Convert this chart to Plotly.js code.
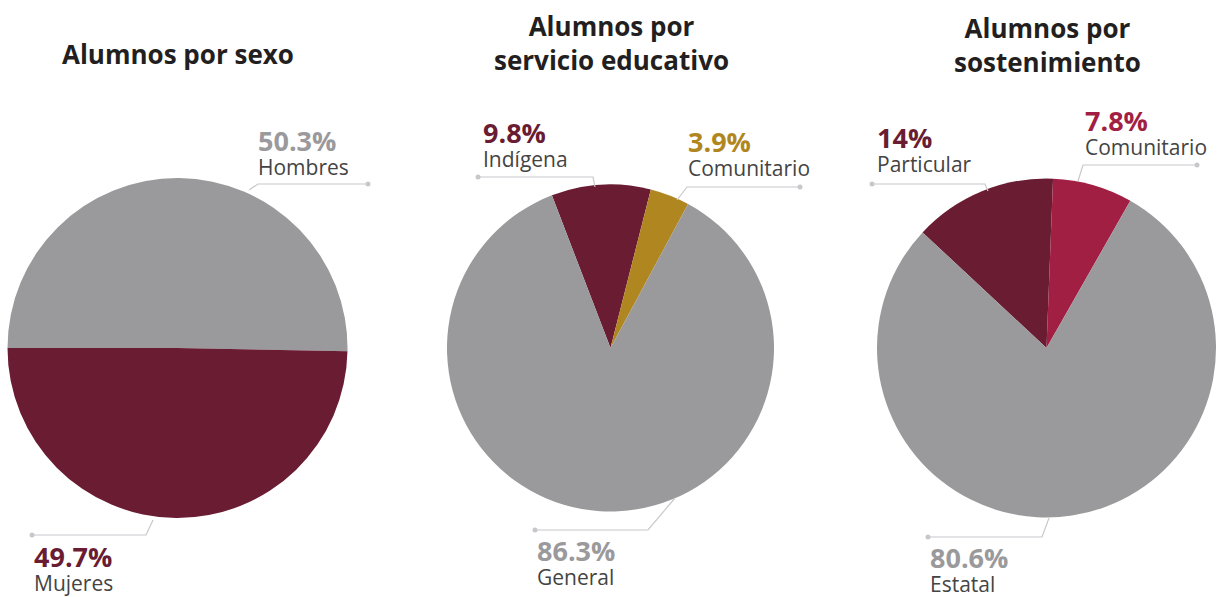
<!DOCTYPE html>
<html>
<head>
<meta charset="utf-8">
<script src="https://cdn.plot.ly/plotly-3.0.1.min.js"></script>
<style>
html,body{margin:0;padding:0;background:#fff;}
#chart{width:1229px;height:597px;}
</style>
</head>
<body>
<div id="chart"></div>
<script>
// ---- Data ----
const sexoLabels = ["Hombres", "Mujeres"];
const sexoValues = [50.3, 49.7];
const sexoText = ["50.3%", "49.7%"];

const servicioLabels = ["Indígena", "Comunitario", "General"];
const servicioValues = [9.8, 3.9, 86.3];
const servicioText = ["9.8%", "3.9%", "86.3%"];

const sostLabels = ["Particular", "Comunitario", "Estatal"];
const sostValues = [14, 7.8, 80.6];
const sostText = ["14%", "7.8%", "80.6%"];

const titles = ["Alumnos por sexo", "Alumnos por<br>servicio educativo", "Alumnos por<br>sostenimiento"];

// ---- Style ----
const GRAY = "#9a999b", MAROON = "#691c32", GOLD = "#b08621", RED = "#a21f44";
const W = 1229, H = 597;
const px = x => x / W;
const py = y => 1 - y / H;
const FONT = "Open Sans, Noto Sans, sans-serif";

function pieTrace(labels, values, colors, rot, cx, cy, r) {
  return {
    type: "pie", labels: labels, values: values, sort: false,
    direction: "clockwise", rotation: rot,
    marker: {colors: colors, line: {width: 0}},
    textinfo: "none", hoverinfo: "label+percent", showlegend: false,
    domain: {x: [px(cx - r), px(cx + r)], y: [py(cy + r), py(cy - r)]}
  };
}

const data = [
  pieTrace(sexoLabels, sexoValues, [GRAY, MAROON], -90, 177.5, 348, 170),
  pieTrace(servicioLabels, servicioValues, [MAROON, GOLD, GRAY], -21, 610.5, 348, 163.5),
  pieTrace(sostLabels, sostValues, [MAROON, RED, GRAY], -47, 1046.5, 348, 169.5)
];

const annotations = [];
function title(text, x, y) {
  annotations.push({xref: "paper", yref: "paper", x: px(x), y: py(y), xanchor: "center", yanchor: "middle",
    text: "<b>" + text + "</b>", showarrow: false, align: "center",
    font: {family: FONT, size: 26, color: "#231f20"}});
}
function label(pct, name, color, x, yTop) {
  annotations.push({xref: "paper", yref: "paper", x: px(x), y: py(yTop), xanchor: "left", yanchor: "top",
    align: "left", showarrow: false,
    text: `<span style="font-size:27px;color:${color}"><b>${pct}</b></span><br><span style="font-size:21px">${name}</span>`,
    font: {family: FONT, size: 18.5, color: "#444444"}});
}
title(titles[0], 178, 54);
title(titles[1], 611, 43);
title(titles[2], 1047, 45);

label(sexoText[0], sexoLabels[0], GRAY, 256, 120);
label(sexoText[1], sexoLabels[1], MAROON, 32, 536);
label(servicioText[0], servicioLabels[0], MAROON, 481, 112);
label(servicioText[1], servicioLabels[1], GOLD, 686, 121);
label(servicioText[2], servicioLabels[2], GRAY, 535, 530);
label(sostText[0], sostLabels[0], MAROON, 875, 117);
label(sostText[1], sostLabels[1], RED, 1083, 100);
label(sostText[2], sostLabels[2], GRAY, 928, 537);

// leader lines: [x0,y0 (pie), x1,y1 (elbow), x2,y2 (dot)]
const leaders = [
  [249, 190, 258, 184, 368, 184],
  [153, 520, 146, 535, 32, 535],
  [595, 187, 593, 177, 478, 177],
  [677, 200, 687, 187, 800, 187],
  [675, 498, 648, 530, 535, 530],
  [988, 191, 985, 184, 872, 184],
  [1078, 181, 1083, 165, 1197, 165],
  [1049, 518, 1042, 537, 928, 537]
];
const shapes = [];
const LC = "#c8c8cc";
leaders.forEach(l => {
  shapes.push({type: "path", xref: "paper", yref: "paper",
    path: `M${px(l[0])},${py(l[1])} L${px(l[2])},${py(l[3])} L${px(l[4])},${py(l[5])}`,
    line: {color: LC, width: 1.2}});
  shapes.push({type: "circle", xref: "paper", yref: "paper",
    x0: px(l[4] - 2.5), x1: px(l[4] + 2.5), y0: py(l[5] + 2.5), y1: py(l[5] - 2.5),
    fillcolor: LC, line: {width: 0}});
});

const layout = {
  width: W, height: H, margin: {l: 0, r: 0, t: 0, b: 0},
  paper_bgcolor: "#ffffff", plot_bgcolor: "#ffffff",
  showlegend: false, annotations: annotations, shapes: shapes,
  font: {family: FONT}
};
Plotly.newPlot("chart", data, layout, {displayModeBar: false, staticPlot: true});
</script>
</body>
</html>
